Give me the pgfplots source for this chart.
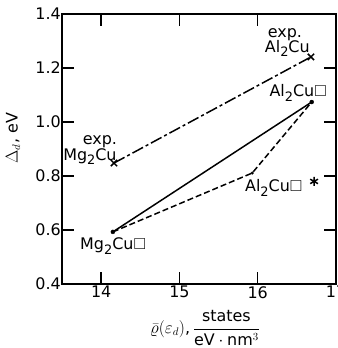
\documentclass[border=0pt]{standalone}
\usepackage{amsmath}
\usepackage{amssymb}
\usepackage{pgfplots}
\pgfplotsset{compat=1.18}
\usepackage{fontspec}
\setmainfont{DejaVu Sans}
\newcommand\sub[1]{\raisebox{-0.5ex}{\fontsize{13}{13}\selectfont #1}}
\begin{document}
\begin{tikzpicture}
\begin{axis}[
  scale only axis, width=274bp, height=270bp,
  xmin=13.5, xmax=17, ymin=0.4, ymax=1.4,
  xtick={14,15,16,17}, ytick={0.4,0.6,0.8,1.0,1.2,1.4},
  xticklabels={14,15,16,17},
  yticklabels={0.4,0.6,0.8,1.0,1.2,1.4},
  tick align=inside, major tick length=12bp,
  axis line style={line width=1.6pt}, tick style={line width=1.4pt, black},
  ticklabel style={font=\fontsize{16}{18}\selectfont},
  yticklabel style={inner xsep=1bp},
  xticklabel style={inner ysep=2bp},
  /pgf/number format/assume math mode=true,
  xlabel={$\bar{\varrho}(\varepsilon_d)$,\,$\dfrac{\text{states}}{\text{eV}\cdot\text{nm}^3}$},
  ylabel={$\Delta_d$, eV},
  label style={font=\fontsize{16}{18}\selectfont},
  xlabel style={at={(axis description cs:0.522,-0.163)}, anchor=center},
  ylabel style={at={(axis description cs:-0.179,0.54)}, anchor=center},
  clip=false,
]
\addplot[black, line width=1.5pt, dash pattern=on 12bp off 3bp on 3bp off 3bp] coordinates {(14.164,0.848) (16.68,1.241)};
\addplot[black, only marks, mark=x, mark size=4.5pt, line width=1.5pt] coordinates {(14.164,0.848) (16.68,1.241)};
\addplot[black, line width=1.5pt] coordinates {(14.15,0.593) (16.69,1.074)};
\addplot[black, line width=1.5pt, dash pattern=on 6bp off 3bp] coordinates {(14.15,0.593) (15.93,0.811) (16.69,1.074)};
\addplot[black, only marks, mark=*, mark size=2pt] coordinates {(14.15,0.593) (16.69,1.074)};
\addplot[black, only marks, mark=*, mark size=1.3pt] coordinates {(15.93,0.811)};
\addplot[black, only marks, mark=asterisk, mark size=4.5pt, line width=1.5pt] coordinates {(16.72,0.78)};
\node[font=\fontsize{16}{18}\selectfont, anchor=base, inner sep=0pt] at (axis cs:13.985,0.918) {exp.};
\node[font=\fontsize{16}{18}\selectfont, anchor=base east, inner sep=0pt] at (axis cs:14.20,0.859) {Mg\sub{2}Cu};
\node[font=\fontsize{16}{18}\selectfont, anchor=base, inner sep=0pt] at (axis cs:16.348,1.314) {exp.};
\node[font=\fontsize{16}{18}\selectfont, anchor=base east, inner sep=0pt] at (axis cs:16.667,1.259) {Al\sub{2}Cu};
\node[font=\fontsize{16}{18}\selectfont, anchor=base east, inner sep=0pt] at (axis cs:16.884,1.093) {Al\sub{2}Cu$\square$};
\node[font=\fontsize{16}{18}\selectfont, anchor=base west, inner sep=0pt] at (axis cs:13.73,0.526) {Mg\sub{2}Cu$\square$};
\node[font=\fontsize{16}{18}\selectfont, anchor=base west, inner sep=0pt] at (axis cs:15.837,0.741) {Al\sub{2}Cu$\square$};
\coordinate (bl) at (rel axis cs:0,0);
\coordinate (tr) at (rel axis cs:1,1);
\end{axis}
\pgfresetboundingbox
\path ([xshift=-62bp,yshift=-64bp]bl) rectangle ([xshift=2bp,yshift=14bp]tr);
\end{tikzpicture}
\end{document}
